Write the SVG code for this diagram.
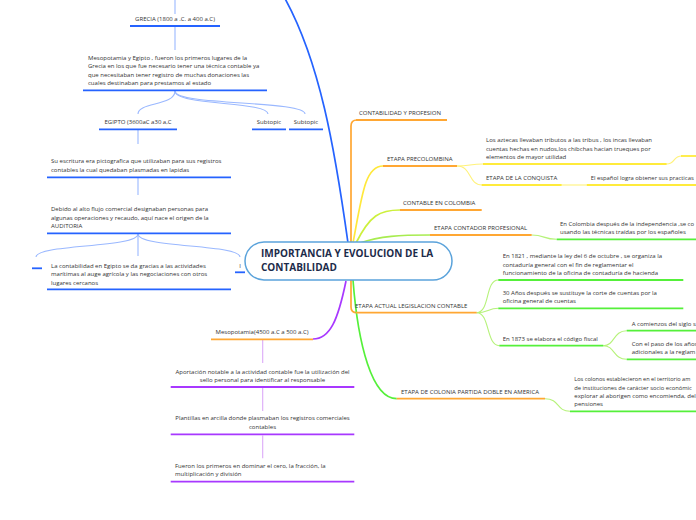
<svg xmlns="http://www.w3.org/2000/svg" width="696" height="520" viewBox="0 0 696 520">
<style>
.t{font-family:"Open Sans","Noto Sans","DejaVu Sans",sans-serif;font-size:6px;fill:#333}
.m{text-anchor:middle}
.title{font-family:"Open Sans","Noto Sans",sans-serif;font-size:10px;font-weight:bold;fill:#1c2b4a}
.u{fill:none;stroke-width:1.8;stroke-linecap:butt}
.ub{stroke:#2563ff}
.uo{stroke:#ffa733}
.uy{stroke:#ffeb3b}
.ug{stroke:#55f03a}
.up{stroke:#a838ff}
.c{fill:none;stroke-width:1.1}
.cM{fill:none;stroke-width:1.7}
.lb{stroke:#9ab8ff}
.lp{stroke:#dcaaf8}
.ly{stroke:#fff27a}
.lg{stroke:#b6f27a}
</style>
<rect width="696" height="520" fill="#fff"/>
<g id="connectors">
  <path class="cM" stroke="#2563ff" d="M348,243 C335,150 320,60 283,-5"/>
  <path class="cM" stroke="#ffa733" d="M351,243 L351,126 Q351,120 357,120"/>
  <path class="cM" stroke="#ffe83b" d="M353,243 C362,195 365,166 383,166"/>
  <path class="cM" stroke="#cdf03c" d="M356,243 C370,215 380,210 400,210"/>
  <path class="cM" stroke="#a8ec50" d="M360,243 C380,236 400,235 430,235"/>
  <path class="cM" stroke="#ffa733" d="M351,280 L351,307 Q351,312.7 357,312.7"/>
  <path class="cM" stroke="#55f03a" d="M353,280 C358,345 372,398.7 396.7,398.7"/>
  <path class="cM" stroke="#a838ff" d="M346,281 C338,320 330,339 313,339"/>
  <path class="c lb" d="M175,0 L175,14"/>
  <path class="c lb" d="M175,27 L175,50"/>
  <path class="c lb" d="M175,91 C175,106 138,102 138,114"/>
  <path class="c lb" d="M175,91 C175,106 268,101 268,114"/>
  <path class="c lb" d="M175,91 C175,106 305,100 305,114"/>
  <path class="c lb" d="M138,130 L138,144"/>
  <path class="c lb" d="M138,178 L138,195"/>
  <path class="c lb" d="M138,234 C138,248 36,244 36,257"/>
  <path class="c lb" d="M138,234 L138,256"/>
  <path class="c lb" d="M138,234 C138,248 240,244 240,257"/>
  <path class="c lp" d="M262.7,340 L262.7,363"/>
  <path class="c lp" d="M262.7,388 L262.7,411"/>
  <path class="c lp" d="M262.7,435.5 L262.7,458.3"/>
  <path class="c ly" d="M457,166 C470,166 470,164 483,164"/>
  <path class="c ly" d="M457,166 C472,166 468,185 482,185"/>
  <path class="c ly" d="M666.7,164 C676,164 672,156 682,156"/>
  <path class="c ly" d="M561.7,185 L586.7,185"/>
  <path class="c lg" d="M531.7,235 C545,235 543,239.3 556.7,239.3"/>
  <path class="c lg" d="M476.7,312.7 C490,312.7 485,280 498.3,280"/>
  <path class="c lg" d="M476.7,312.7 C488,312.7 488,308.3 498.3,308.3"/>
  <path class="c lg" d="M476.7,312.7 C490,312.7 486,345.7 499.3,345.7"/>
  <path class="c lg" d="M603.3,345.7 C615,345.7 613,330.7 626.7,330.7"/>
  <path class="c lg" d="M603.3,345.7 C615,345.7 613,359.3 626.7,359.3"/>
  <path class="c lg" d="M545,398.7 C560,398.7 556,411.3 570,411.3"/>
</g>

<g id="central">
  <rect x="245" y="242" width="207" height="38" rx="19" fill="#fff" stroke="#5ba3db" stroke-width="1.5"/>
  <text class="title" x="261" y="257">IMPORTANCIA Y EVOLUCION DE LA</text>
  <text class="title" x="261" y="271">CONTABILIDAD</text>
</g>

<g id="grecia">
  <text class="t m" x="175" y="21">GRECIA (1800 a .C. a 400 a.C)</text>
  <line class="u ub" x1="130" y1="26" x2="220" y2="26"/>
</g>
<g id="mesopotamia-egipto">
  <text class="t" x="88" y="60">Mesopotamia y Egipto , fueron los primeros lugares de la</text>
  <text class="t" x="88" y="68.3">Grecia en los que fue necesario tener una técnica contable ya</text>
  <text class="t" x="88" y="76.6">que necesitaban tener registro  de muchas donaciones las</text>
  <text class="t" x="88" y="85">cuales destinaban para prestamos al estado</text>
  <line class="u ub" x1="83" y1="90.3" x2="267" y2="90.3"/>
</g>
<g id="egipto">
  <text class="t m" x="138" y="124.3">EGIPTO (3600aC a30 a,C</text>
  <line class="u ub" x1="99" y1="129.3" x2="177" y2="129.3"/>
</g>
<g id="subtopic1">
  <text class="t m" x="269" y="124.3">Subtopic</text>
  <line class="u ub" x1="252" y1="129.3" x2="286" y2="129.3"/>
</g>
<g id="subtopic2">
  <text class="t m" x="306" y="124.3">Subtopic</text>
  <line class="u ub" x1="289" y1="129.3" x2="323" y2="129.3"/>
</g>
<g id="escritura">
  <text class="t" x="51" y="163.3">Su escritura era pictografica que utilizaban para sus registros</text>
  <text class="t" x="51" y="172.2">contables la cual quedaban plasmadas en lapidas</text>
  <line class="u ub" x1="47" y1="177.3" x2="231" y2="177.3"/>
</g>
<g id="auditoria">
  <text class="t" x="51" y="211.4">Debido al alto flujo comercial designaban personas para</text>
  <text class="t" x="51" y="219.8">algunas operaciones y recaudo, aquí nace el origen de la</text>
  <text class="t" x="51" y="228.2">AUDITORIA</text>
  <line class="u ub" x1="47" y1="233.3" x2="231" y2="233.3"/>
</g>
<g id="vacio">
  <line class="u ub" x1="32" y1="268.3" x2="42" y2="268.3"/>
</g>
<g id="contabilidad-egipto">
  <text class="t" x="51" y="267.9">La contabilidad en Egipto se da gracias a las actividades</text>
  <text class="t" x="51" y="276.2">marítimas al auge agrícola y las negociaciones con otros</text>
  <text class="t" x="51" y="284.5">lugares cercanos</text>
  <line class="u ub" x1="47" y1="289.3" x2="231" y2="289.3"/>
</g>
<g id="nodo-i">
  <text class="t m" x="240" y="267.5">I</text>
  <line class="u ub" x1="235" y1="272.3" x2="245" y2="272.3"/>
</g>

<g id="mesopotamia">
  <text class="t m" x="262" y="334.3">Mesopotamia(4500 a.C a 500 a.C)</text>
  <line class="u uo" x1="211" y1="339.3" x2="313" y2="339.3"/>
</g>
<g id="aportacion">
  <text class="t m" x="262.5" y="373.6">Aportación notable a la actividad contable fue la utilización del</text>
  <text class="t m" x="262.5" y="381.7">sello personal para identificar al responsable</text>
  <line class="u up" x1="170.7" y1="387" x2="354.3" y2="387"/>
</g>
<g id="plantillas">
  <text class="t m" x="262.5" y="420">Plantillas en arcilla donde plasmaban los registros comerciales</text>
  <text class="t m" x="262.5" y="429">contables</text>
  <line class="u up" x1="170.7" y1="434.3" x2="354.3" y2="434.3"/>
</g>
<g id="cero">
  <text class="t" x="175" y="468">Fueron los primeros en dominar el cero, la fracción, la</text>
  <text class="t" x="175" y="476.4">multiplicación y división</text>
  <line class="u up" x1="170.7" y1="481.7" x2="354.3" y2="481.7"/>
</g>

<g id="contabilidad-profesion">
  <text class="t" x="359" y="115">CONTABILIDAD Y PROFESION</text>
  <line class="u uo" x1="356" y1="120" x2="447" y2="120"/>
</g>
<g id="precolombina">
  <text class="t" x="387" y="161.3">ETAPA PRECOLOMBINA</text>
  <line class="u uo" x1="383" y1="166" x2="457" y2="166"/>
</g>
<g id="aztecas">
  <text class="t" x="486" y="142.3">Los aztecas llevaban tributos a las tribus , los incas llevaban</text>
  <text class="t" x="486" y="150.7">cuentas hechas en nudos,los chibchas hacian trueques por</text>
  <text class="t" x="486" y="159">elementos de mayor utilidad</text>
  <line class="u uy" x1="483" y1="164" x2="666.7" y2="164"/>
</g>
<g id="aztecas-hijo">
  <line class="u uy" x1="681" y1="156" x2="696" y2="156"/>
</g>
<g id="conquista">
  <text class="t" x="486" y="180">ETAPA DE LA CONQUISTA</text>
  <line class="u uy" x1="481.7" y1="185" x2="561.7" y2="185"/>
</g>
<g id="espanol">
  <text class="t" x="590.7" y="180" textLength="103" lengthAdjust="spacingAndGlyphs">El español logra obtener sus practicas</text>
  <line class="u uy" x1="586.7" y1="185" x2="696" y2="185"/>
</g>
<g id="contable-colombia">
  <text class="t" x="403" y="204.5">CONTABLE EN COLOMBIA</text>
  <line class="u uo" x1="400" y1="210" x2="481.7" y2="210"/>
</g>
<g id="contador-profesional">
  <text class="t" x="434" y="230">ETAPA CONTADOR PROFESIONAL</text>
  <line class="u uo" x1="430" y1="235" x2="531.7" y2="235"/>
</g>
<g id="independencia">
  <text class="t" x="560" y="226" textLength="134" lengthAdjust="spacingAndGlyphs">En Colombia después  de la independencia ,se co</text>
  <text class="t" x="560" y="234.3">usando las técnicas traídas por los españoles</text>
  <line class="u ug" x1="556.7" y1="239.3" x2="696" y2="239.3"/>
</g>
<g id="legislacion">
  <text class="t" x="355" y="307.8">ETAPA ACTUAL LEGISLACION CONTABLE</text>
  <line class="u uo" x1="356" y1="312.7" x2="476.7" y2="312.7"/>
</g>
<g id="n1821">
  <text class="t" x="502.7" y="258">En 1821 , mediante la ley del 6 de octubre , se organiza la</text>
  <text class="t" x="502.7" y="266.5">contaduría general con el fin de reglamentar el</text>
  <text class="t" x="502.7" y="275">funcionamiento de la oficina de contaduría de hacienda</text>
  <line class="u ug" x1="498.3" y1="280" x2="683.3" y2="280"/>
</g>
<g id="n30">
  <text class="t" x="502.7" y="294.8">30  Años después se sustituye la corte de cuentas por la</text>
  <text class="t" x="502.7" y="303.2">oficina general de cuentas</text>
  <line class="u ug" x1="498.3" y1="308.3" x2="683.3" y2="308.3"/>
</g>
<g id="n1873">
  <text class="t" x="502.7" y="340.6">En 1873 se elabora el código fiscal</text>
  <line class="u ug" x1="499.3" y1="345.7" x2="603.3" y2="345.7"/>
</g>
<g id="comienzos">
  <text class="t" x="631.7" y="326">A comienzos del siglo s</text>
  <line class="u ug" x1="626.7" y1="330.7" x2="696" y2="330.7"/>
</g>
<g id="paso-anos">
  <text class="t" x="631.7" y="345.7">Con el paso de los años</text>
  <text class="t" x="631.7" y="354.2">adicionales a la reglam</text>
  <line class="u ug" x1="626.7" y1="359.3" x2="696" y2="359.3"/>
</g>
<g id="colonia">
  <text class="t" x="401" y="393.6">ETAPA DE COLONIA PARTIDA DOBLE EN AMERICA</text>
  <line class="u uo" x1="396.7" y1="398.7" x2="545" y2="398.7"/>
</g>
<g id="colonos">
  <text class="t" x="574.3" y="381.2" style="font-size:5.6px">Los colonos establecieron en el territorio am</text>
  <text class="t" x="574.3" y="389.5" style="font-size:5.8px">de instituciones de carácter socio económic</text>
  <text class="t" x="574.3" y="397.8">explorar al aborigen como encomienda, del</text>
  <text class="t" x="574.3" y="406.2">pensiones</text>
  <line class="u ug" x1="570" y1="411.3" x2="696" y2="411.3"/>
</g>
</svg>
